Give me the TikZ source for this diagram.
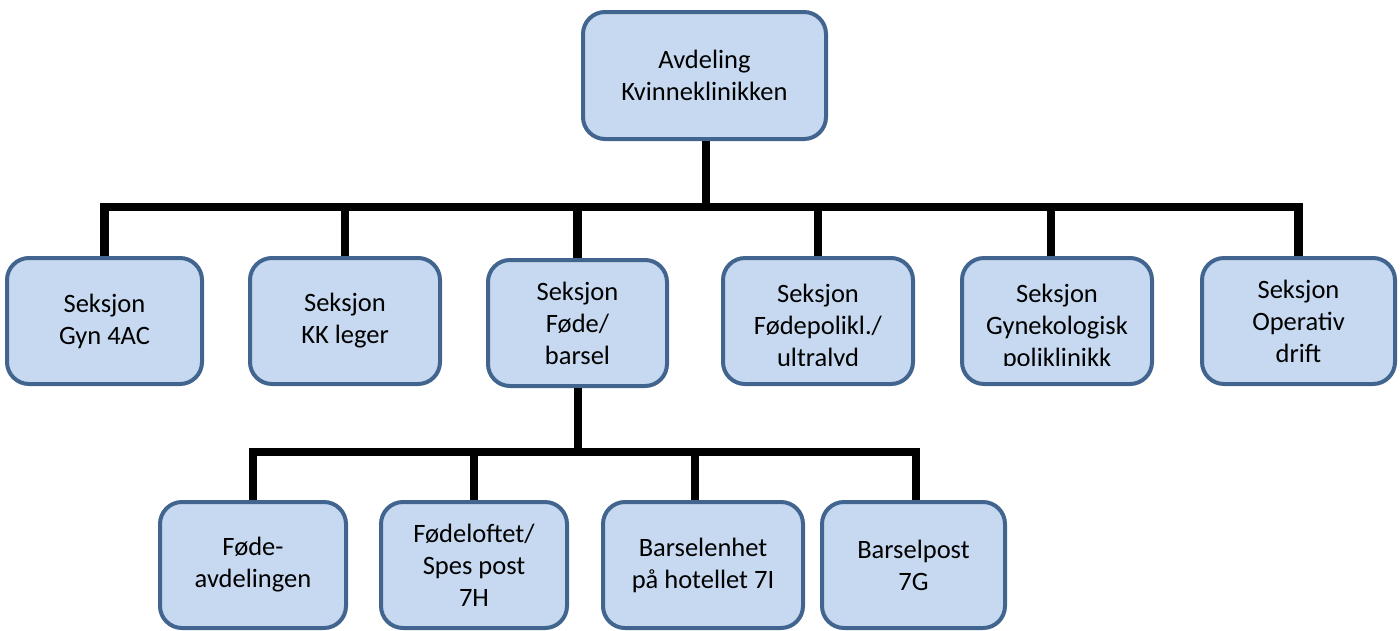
\documentclass[tikz,border=0pt]{standalone}
\usepackage{fontspec}
\setmainfont{Carlito}
\definecolor{boxfill}{HTML}{C6D9F0}
\definecolor{boxline}{HTML}{41658F}
\tikzset{
  orgbox/.style={draw=boxline, fill=boxfill, line width=4pt, rounded corners=22pt,
    inner sep=0pt, align=center, font=\fontsize{26.5}{32}\selectfont},
  boxtext/.style={inner sep=0pt, align=center, font=\fontsize{26.5}{32}\selectfont},
  conn/.style={line width=8.5pt, black, line join=miter, line cap=butt}
}
\begin{document}
\begin{tikzpicture}[x=1pt,y=-1pt]
\useasboundingbox (0,0) rectangle (1400,630);
\clip (0,0) rectangle (1400,630);
% top
\node[orgbox, minimum width=243pt, minimum height=127pt] (top) at (704.5,75.5) {Avdeling\\Kvinneklinikken};
% level 2
\node[orgbox, minimum width=195pt, minimum height=126pt] (s1) at (104.5,321) {Seksjon\\Gyn 4AC};
\node[orgbox, minimum width=190pt, minimum height=126pt] (s2) at (345,321) {Seksjon\\KK leger};
\node[orgbox, minimum width=179pt, minimum height=126pt] (s3) at (577.5,323) {Seksjon\\Føde/\\barsel};
\node[orgbox, minimum width=190pt, minimum height=126pt] (s4) at (818,321) {};
\node[orgbox, minimum width=190pt, minimum height=126pt] (s5) at (1057,321) {};
\node[orgbox, minimum width=193pt, minimum height=126pt] (s6) at (1298.5,321) {Seksjon\\Operativ\\drift};
\begin{scope}
\clip (700,250) rectangle (1200,365);
\node[boxtext] (t4) at (818,327) {Seksjon\\Fødepolikl./\\ultralyd};
\node[boxtext] (t5) at (1057,327) {Seksjon\\Gynekologisk\\poliklinikk};
\end{scope}
% level 3
\node[orgbox, minimum width=186pt, minimum height=126pt] (b1) at (253,565) {Føde-\\avdelingen};
\node[orgbox, minimum width=186pt, minimum height=126pt] (b2) at (474,565) {Fødeloftet/\\Spes post\\7H};
\node[orgbox, minimum width=200pt, minimum height=126pt] (b3) at (703,565) {Barselenhet\\på hotellet 7I};
\node[orgbox, minimum width=183pt, minimum height=126pt] (b4) at (913.5,565) {Barselpost\\7G};
% connectors
\coordinate (bar1) at (706,207);
\coordinate (bar2) at (578,452);
\draw[conn] (top.south -| bar1) -- (bar1);
\draw[conn] (s1.north) |- (bar1) -| (s6.north);
\draw[conn] (bar1 -| s2.north) -- (s2.north);
\draw[conn] (bar1 -| s3.north) -- (s3.north);
\draw[conn] (bar1 -| s4.north) -- (s4.north);
\draw[conn] (bar1 -| 1051,0) -- (s5.north -| 1051,0);
\draw[conn] (s3.south -| bar2) -- (bar2);
\draw[conn] (b1.north) |- (bar2) -| (b4.north -| 916,0);
\draw[conn] (bar2 -| b2.north) -- (b2.north);
\draw[conn] (bar2 -| 695,0) -- (b3.north -| 695,0);
\end{tikzpicture}
\end{document}
